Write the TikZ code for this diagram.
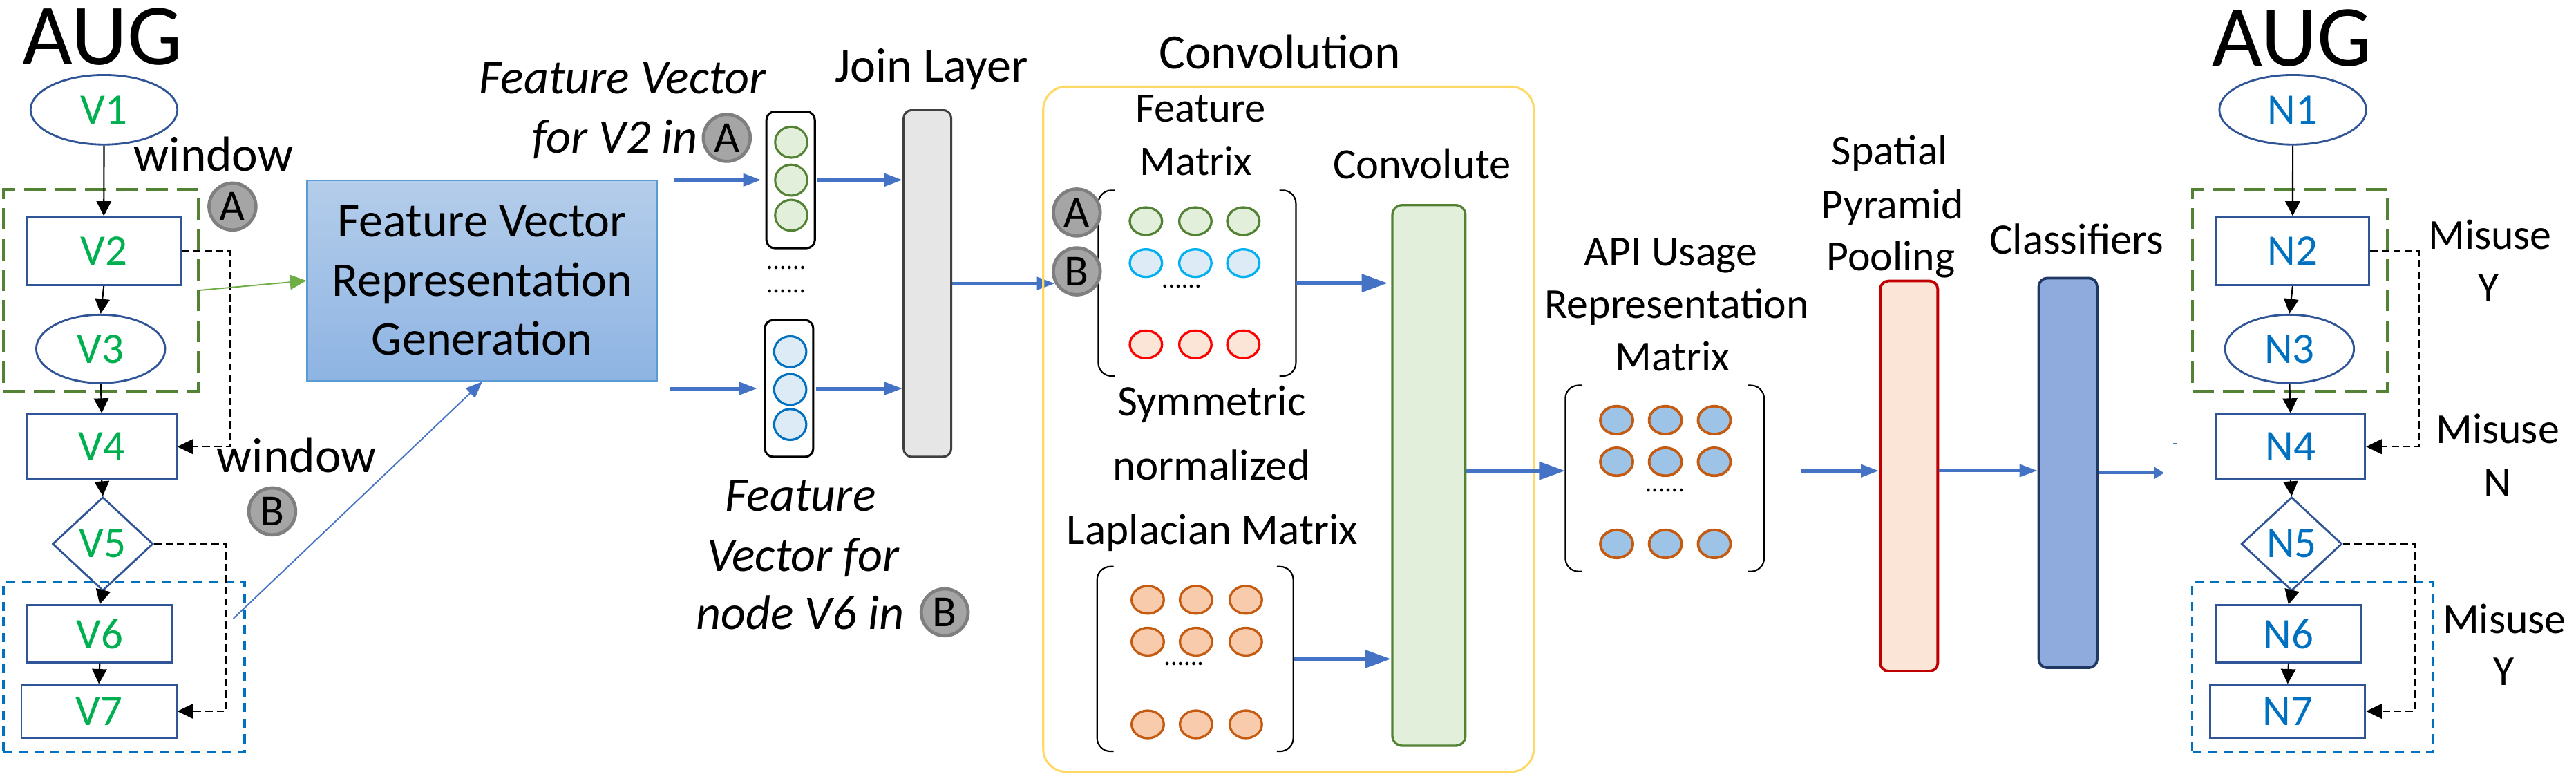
\documentclass[tikz,border=0pt]{standalone}
\usepackage{fontspec}
\setmainfont{Carlito}
\usetikzlibrary{arrows.meta,shapes.geometric}
\pgfdeclarelayer{bg}
\pgfsetlayers{bg,main}
\definecolor{nodeblue}{HTML}{2F5597}
\definecolor{vgreen}{HTML}{00B050}
\definecolor{nblue}{HTML}{0070C0}
\definecolor{winGreen}{HTML}{548235}
\definecolor{winBlue}{HTML}{0070C0}
\definecolor{arrowBlue}{HTML}{4472C4}
\definecolor{lineGreen}{HTML}{70AD47}
\definecolor{circFill}{HTML}{A5A5A5}
\definecolor{circDraw}{HTML}{7F7F7F}
\definecolor{fvTop}{HTML}{B4CDEA}
\definecolor{fvBot}{HTML}{8EB4E3}
\definecolor{fvDraw}{HTML}{5B9BD5}
\definecolor{gFill}{HTML}{E2EFDA}
\definecolor{bFill}{HTML}{DDEBF7}
\definecolor{bDraw}{HTML}{00B0F0}
\definecolor{rFill}{HTML}{FBE5D6}
\definecolor{rDraw}{HTML}{FF0000}
\definecolor{oFill}{HTML}{F8CBAD}
\definecolor{oDraw}{HTML}{C55A11}
\definecolor{apiFill}{HTML}{9DC3E6}
\definecolor{joinFill}{HTML}{E7E6E6}
\definecolor{joinDraw}{HTML}{404040}
\definecolor{convGold}{HTML}{FFD966}
\definecolor{sppDraw}{HTML}{C00000}
\definecolor{clsFill}{HTML}{8FAADC}
\definecolor{clsDraw}{HTML}{203864}
\newcommand{\myfs}[1]{\fontsize{#1}{#1}\selectfont}

\tikzset{
  gnode/.style={draw=nodeblue, line width=1.2pt, inner sep=0pt, font=\myfs{26.5}},
  wingreen/.style={draw=winGreen, line width=1.7pt, dash pattern=on 13pt off 5.6pt, minimum width=118.8pt, minimum height=122.8pt, inner sep=0pt},
  winblue/.style={draw=winBlue, line width=1.4pt, dash pattern=on 5.5pt off 4pt, minimum width=146.8pt, minimum height=103.1pt, inner sep=0pt},
  flowarrow/.style={-{Triangle[length=9pt,width=9pt]}, line width=0.9pt, black},
  dasharrow/.style={-{Triangle[length=9.5pt,width=9pt]}, line width=0.8pt, black, dash pattern=on 4.5pt off 2.5pt},
  circlab/.style={circle, fill=circFill, draw=circDraw, line width=2pt, minimum size=28.5pt, inner sep=0pt, font=\myfs{27}},
  barrow/.style={-{Triangle[length=11pt,width=7.5pt]}, line width=2.1pt, arrowBlue},
  bigarrow/.style={-{Triangle[length=16pt,width=10.5pt]}, line width=2.8pt, arrowBlue},
  txt/.style={inner sep=0pt, anchor=base},
  cell/.style={ellipse, minimum width=19.6pt, minimum height=16.8pt, inner sep=0pt, line width=1.4pt},
  vcell/.style={ellipse, minimum width=19.6pt, minimum height=18.8pt, inner sep=0pt, line width=1.3pt},
  bar/.style={rounded corners=5pt, inner sep=0pt},
  matbox/.style={inner sep=0pt},
  dotstxt/.style={inner sep=0pt, anchor=base, font=\myfs{16}}
}

\newcommand{\mbrackets}[1]{%
  \draw[line width=0.9pt, rounded corners=8pt] ([xshift=10pt]#1.north west) -- (#1.north west) -- (#1.south west) -- ([xshift=10pt]#1.south west);
  \draw[line width=0.9pt, rounded corners=8pt] ([xshift=-10pt]#1.north east) -- (#1.north east) -- (#1.south east) -- ([xshift=-10pt]#1.south east);}

\newcommand{\augraph}[3]{%
\begin{scope}[xshift=#1]
  \node[wingreen] (gbox#2) at (61.5,176.6) {};
  \node[winblue] (bbox#2) at (75.5,406) {};
  \node[gnode, ellipse, text=#3, minimum width=89.4pt, minimum height=42.4pt] (#21) at (63.3,66.8) {#21};
  \node[gnode, rectangle, text=#3, minimum width=93.3pt, minimum height=41.6pt] (#22) at (63.2,152.8) {#22};
  \node[gnode, ellipse, text=#3, minimum width=78.5pt, minimum height=41.6pt] (#23) at (61.3,212.3) {#23};
  \node[gnode, rectangle, text=#3, minimum width=90.8pt, minimum height=39.6pt] (#24) at (61.9,271.8) {#24};
  \node[gnode, diamond, text=#3, minimum width=61.2pt, minimum height=57pt] (#25) at (62.6,331) {#25};
  \node[gnode, rectangle, text=#3, minimum width=88.4pt, minimum height=34.6pt] (#26) at (60.7,385.7) {#26};
  \node[gnode, rectangle, text=#3, minimum width=94.3pt, minimum height=32.1pt] (#27) at (60.2,432.8) {#27};
  \draw[flowarrow] (#21.south) -- (#22.north);
  \draw[flowarrow] (#22.south) -- (#23.north);
  \draw[flowarrow] (#23.south) -- (#24.north);
  \draw[flowarrow] (#24.south) -- (#25.north);
  \draw[flowarrow] (#25.south) -- (#26.north);
  \draw[flowarrow] (#26.south) -- (#27.north);
  \draw[dasharrow] (#22.east) -- ++(29.7,0) |- (#24.east);
  \draw[dasharrow] (#25.east) -- ++(43.9,0) |- (#27.east);
\end{scope}}

\begin{document}
\begin{tikzpicture}[x=1pt, y=-1pt]
\useasboundingbox (0,0) rectangle (1568,475);

% ---------- AUG graphs ----------
\node[txt, font=\myfs{53}] (augL) at (62.2,39.3) {AUG};
\node[txt, font=\myfs{53}] (augR) at (1395.3,40.3) {AUG};
\augraph{0pt}{V}{vgreen}
\augraph{1332.3pt}{N}{nblue}

\node[txt, font=\myfs{30}] (winA) at (130,104) {window};
\node[txt, font=\myfs{30}] (winB) at (180.5,287.4) {window};
\node[circlab] (cA1) at (141.5,125.7) {A};
\node[circlab] (cB1) at (165.7,311.2) {B};

\node[txt, font=\myfs{26}] (mis1) at (1515.6,151.6) {Misuse};
\node[txt, font=\myfs{26}] (misY1) at (1515,183.4) {Y};
\node[txt, font=\myfs{26}] (mis2) at (1520.3,269.9) {Misuse};
\node[txt, font=\myfs{26}] (misN) at (1520.1,302.1) {N};
\node[txt, font=\myfs{26}] (mis3) at (1524.4,385.5) {Misuse};
\node[txt, font=\myfs{26}] (misY2) at (1524.2,417) {Y};

% ---------- Feature vector generation ----------
\node[draw=fvDraw, line width=1pt, top color=fvTop, bottom color=fvBot, minimum width=213pt, minimum height=122pt, inner sep=0pt, align=center, font=\fontsize{29.5}{36}\selectfont] (fvrg) at (293.5,170.8) {Feature Vector\\Representation\\Generation};
\draw[-{Triangle[length=10pt,width=9pt]}, line width=0.8pt, lineGreen] (gboxV.east) -- (fvrg.west);
\draw[-{Triangle[length=10pt,width=8pt]}, line width=0.8pt, arrowBlue] ([xshift=-7.6pt,yshift=-22.7pt]bboxV.north east) -- (fvrg.south);

% feature vectors
\node[draw, line width=1.3pt, rounded corners=5pt, minimum width=29.5pt, minimum height=83pt, inner sep=0pt] (vecA) at (481.25,109.5) {};
\node[draw, line width=1.3pt, rounded corners=5pt, minimum width=29.4pt, minimum height=83.2pt, inner sep=0pt] (vecB) at (480.3,236.4) {};
\foreach \y [count=\i] in {86.5,109.6,131} \node[vcell, fill=gFill, draw=winGreen] (va\i) at (481.6,\y) {};
\foreach \y [count=\i] in {214,237,258.3} \node[vcell, fill=bFill, draw=winBlue] (vb\i) at (481,\y) {};
\node[dotstxt] (vdots1) at (478.5,164) {......};
\node[dotstxt] (vdots2) at (478.5,178) {......};

\node[txt, font=\myfs{29.5}\itshape] (fvA1) at (379,56.8) {Feature Vector};
\node[inner sep=0pt, anchor=base east, font=\myfs{29.5}\itshape] (fvA2) at (425,93.2) {for V2 in};
\node[circlab] (cA2) at (442.4,83.9) {A};

\node[txt, font=\myfs{29.5}\itshape] (fvB1) at (487.3,311) {Feature};
\node[txt, font=\myfs{29.5}\itshape] (fvB2) at (488.8,347.7) {Vector for};
\node[txt, font=\myfs{29.5}\itshape] (fvB3) at (487,383) {node V6 in};
\node[circlab] (cB2) at (575,372.6) {B};

\draw[barrow] ([xshift=-55.5pt]vecA.west) -- ([xshift=-2.5pt]vecA.west);
\draw[barrow] ([xshift=-57pt]vecB.west) -- ([xshift=-4pt]vecB.west);

% join layer
\node[txt, font=\myfs{29.5}] (jointxt) at (567,49.8) {Join Layer};
\node[bar, draw=joinDraw, fill=joinFill, line width=1.3pt, minimum width=29pt, minimum height=211pt] (join) at (564.5,172.5) {};
\draw[barrow] ([xshift=1pt]vecA.east) -- (vecA.east -| join.west);
\draw[barrow] ([xshift=1pt]vecB.east) -- (vecB.east -| join.west);

% ---------- Convolution ----------
\node[draw=convGold, line width=1.3pt, rounded corners=14pt, minimum width=298.6pt, minimum height=417pt, inner sep=0pt] (convbox) at (784.3,261.2) {};
\node[txt, font=\myfs{30}] (convtitle) at (779,41.8) {Convolution};

\node[txt, font=\myfs{25.5}] (fmt1) at (730.8,74.3) {Feature};
\node[txt, font=\myfs{25.5}] (fmt2) at (728,106.5) {Matrix};
\node[matbox, minimum width=119.9pt, minimum height=112.6pt] (fm) at (728.65,172.3) {};
\mbrackets{fm}
\foreach \x [count=\i] in {697.5,727.6,756.8} {
  \node[cell, fill=gFill, draw=winGreen] (fmg\i) at (\x,134.6) {};
  \node[cell, fill=bFill, draw=bDraw] (fmb\i) at (\x,160.1) {};
  \node[cell, fill=rFill, draw=rDraw] (fmr\i) at (\x,209.6) {};
}
\node[dotstxt] (fmdots) at (719.2,175.3) {......};

\node[txt, font=\myfs{26.5}] (sym1) at (737.5,253) {Symmetric};
\node[txt, font=\myfs{26.5}] (sym2) at (737.5,292) {normalized};
\node[txt, font=\myfs{26.5}] (sym3) at (738,331.4) {Laplacian Matrix};
\node[matbox, minimum width=119pt, minimum height=112pt] (lm) at (727.5,401) {};
\mbrackets{lm}
\foreach \x [count=\i] in {698.6,728,758.3} {
  \node[cell, fill=oFill, draw=oDraw] (lma\i) at (\x,365) {};
  \node[cell, fill=oFill, draw=oDraw] (lmb\i) at (\x,390.5) {};
  \node[cell, fill=oFill, draw=oDraw] (lmc\i) at (\x,440.8) {};
}
\node[dotstxt] (lmdots) at (720.6,405) {......};

\node[txt, font=\myfs{26.3}] (cvtxt) at (865.5,108.7) {Convolute};
\node[bar, rounded corners=6pt, draw=winGreen, fill=gFill, line width=1.4pt, minimum width=44.5pt, minimum height=329pt] (convbar) at (869.75,289.3) {};

\node[circlab] (cA3) at (655.4,129.3) {A};
\node[circlab] (cB3) at (655.4,165.1) {B};
\begin{pgfonlayer}{bg}
\draw[barrow] (join.east) -- ([xshift=2pt]join.east -| cB3.west);
\end{pgfonlayer}
\draw[bigarrow] (fm.east) -- ([xshift=-2pt]fm.east -| convbar.west);
\draw[bigarrow] (lm.east) -- (lm.east -| convbar.west);

% ---------- API usage matrix ----------
\node[txt, font=\myfs{26}] (api1) at (1017,161.6) {API Usage};
\node[txt, font=\myfs{26}] (api2) at (1020.6,193.8) {Representation};
\node[txt, font=\myfs{26}] (api3) at (1018,225.6) {Matrix};
\node[matbox, minimum width=120.6pt, minimum height=112.8pt] (api) at (1013.3,291.1) {};
\mbrackets{api}
\foreach \x [count=\i] in {984,1013.7,1043.5} {
  \node[cell, minimum width=19.8pt, minimum height=17pt, line width=1.6pt, fill=apiFill, draw=oDraw] (apa\i) at (\x,255.7) {};
  \node[cell, minimum width=19.8pt, minimum height=17pt, line width=1.6pt, fill=apiFill, draw=oDraw] (apb\i) at (\x,281) {};
  \node[cell, minimum width=19.8pt, minimum height=17pt, line width=1.6pt, fill=apiFill, draw=oDraw] (apc\i) at (\x,331) {};
}
\node[dotstxt] (apidots) at (1013.4,299.4) {......};
\draw[bigarrow] ([yshift=2.8pt]convbar.east) -- ([yshift=2.8pt]convbar.east -| api.west);

% ---------- SPP and classifiers ----------
\node[txt, font=\myfs{26}] (spp1) at (1150.3,100.5) {Spatial};
\node[txt, font=\myfs{26}] (spp2) at (1152,133) {Pyramid};
\node[txt, font=\myfs{26}] (spp3) at (1151,164.8) {Pooling};
\node[bar, draw=sppDraw, fill=rFill, line width=1.6pt, minimum width=35pt, minimum height=237.4pt] (spp) at (1162,289.7) {};
\node[txt, font=\myfs{26.5}] (clstxt) at (1264,154.4) {Classifiers};
\node[bar, draw=clsDraw, fill=clsFill, line width=1.6pt, minimum width=35.5pt, minimum height=237pt] (cls) at (1258.75,287.8) {};

\draw[barrow] ([xshift=-47.5pt,yshift=3.2pt]spp.west) -- ([yshift=3.2pt]spp.west);
\draw[barrow, line width=1.9pt] ([yshift=3.3pt]spp.east) -- ([yshift=3.3pt]spp.east -| cls.west);
\draw[-{Triangle[length=6pt,width=7pt]}, line width=1.5pt, arrowBlue] (cls.east) -- ([xshift=40pt]cls.east);
\coordinate (stray) at (1322.7,270);
\draw[arrowBlue, line width=1pt] (stray) -- ++(2.2,0);
\end{tikzpicture}
\end{document}
